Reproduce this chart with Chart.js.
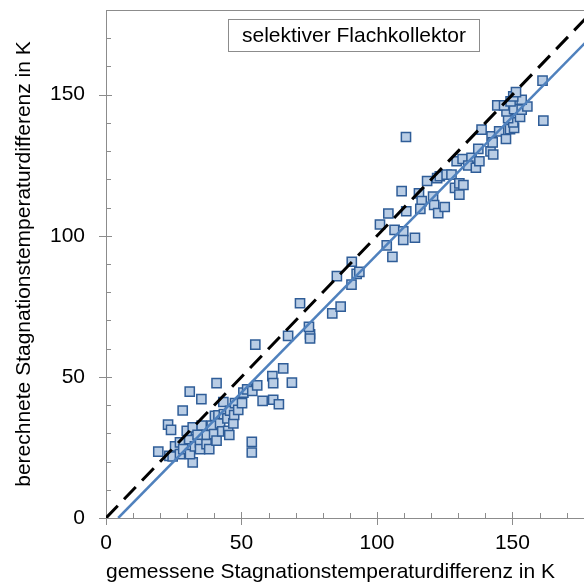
<!DOCTYPE html>
<html><head><meta charset="utf-8">
<script src="https://cdn.jsdelivr.net/npm/chart.js@4"></script>
<style>html,body{margin:0;padding:0;background:#fff}canvas{display:block}</style>
</head><body>
<canvas id="c" width="584" height="583"></canvas>
<script>
// measured (gemessene) vs calculated (berechnete) stagnation temperature differences in K
const measured = [
 19.3,22.9,24.0,28.3,30.9,35.2,40.8,23.4,24.6,32.0,25.5,27.3,27.3,28.5,31.0,30.7,29.8,32.0,32.8,34.7,
 34.7,35.3,36.9,37.1,38.1,39.0,39.9,40.2,40.8,41.5,42.1,42.9,43.3,43.5,44.8,45.1,45.5,45.8,47.0,47.3,
 47.6,48.8,50.2,50.7,52.1,54.0,55.8,53.8,53.8,55.1,57.8,61.7,63.8,61.4,61.7,65.4,68.6,33.8,
 67.2,75.3,75.3,74.9,71.6,83.5,86.6,85.2,90.7,90.6,92.5,93.5,
 105.7,103.6,101.1,104.2,106.5,109.7,109.7,114.0,110.8,110.7,109.1,115.5,116.5,116.0,118.5,122.2,120.7,121.1,122.6,125.0,123.2,
 125.7,127.5,128.8,130.4,131.9,130.4,129.4,131.6,134.9,133.7,136.5,137.8,137.4,141.9,142.9,138.6,142.3,142.7,145.1,147.6,
 149.1,150.6,150.3,148.4,152.8,147.8,150.6,153.4,155.5,144.4,146.9,149.3,153.4,150.3,151.3,161.1,161.4
];
const calculated = [
 23.5,33.1,31.2,38.1,44.8,42.1,47.8,22.0,21.8,19.7,25.4,26.8,22.6,24.4,22.6,27.9,30.9,32.1,25.4,26.8,
 24.4,32.7,29.4,26.2,24.4,32.7,29.7,36.2,27.4,36.4,33.5,30.7,41.1,36.8,35.3,30.9,29.4,38.0,33.5,36.5,
 40.7,38.3,40.7,44.4,45.6,45.0,47.0,27.0,23.2,61.4,41.5,41.9,40.3,50.3,47.8,53.0,48.0,29.5,
 64.5,65.1,63.6,67.7,76.1,72.5,74.9,85.7,90.8,82.7,86.5,87.2,
 92.5,96.6,104.0,107.9,102.1,101.6,98.5,99.3,108.7,135.0,115.8,115.0,112.3,109.5,119.4,120.4,113.9,110.9,108.0,110.2,121.1,
 121.7,121.7,117.0,118.6,118.0,114.6,126.4,127.2,127.6,124.9,124.1,126.4,130.8,129.9,128.8,137.6,135.2,133.1,137.0,134.3,
 137.8,138.2,140.2,141.7,142.1,144.1,144.9,144.7,145.8,146.2,146.2,147.6,148.2,149.4,150.9,155.0,140.8
];
// reference line y = x and regression line
const identityX = [0, 180];
const identityY = [0, 180];
const fitX = [4.5, 180];
const fitY = [0, 171.5];
// axes
const xMin = 0, xMax = 176.4, yMin = 0, yMax = 180;
const xTickValues = [0,10,20,30,40,50,60,70,80,90,100,110,120,130,140,150,160,170];
const yTickValues = [0,10,20,30,40,50,60,70,80,90,100,110,120,130,140,150,160,170,180];
const labeledTicks = [0,50,100,150];
const boxText = 'selektiver Flachkollektor';
const xTitle = 'gemessene Stagnationstemperaturdifferenz in K';
const yTitle = 'berechnete Stagnationstemperaturdifferenz in K';

const FONT = "'Liberation Sans', Arial, sans-serif";
const AXIS = '#8c8c8c';

const pts = measured.map((v,i)=>({x:v, y:calculated[i]}));
const idPts = identityX.map((v,i)=>({x:v, y:identityY[i]}));
const fitPts = fitX.map((v,i)=>({x:v, y:fitY[i]}));

const tickPlugin = {
  id: 'tickmarks',
  beforeDatasetsDraw(chart){
    const {ctx, chartArea:a, scales:{x, y}} = chart;
    ctx.save();
    ctx.strokeStyle = AXIS; ctx.lineWidth = 1;
    ctx.beginPath();
    ctx.moveTo(a.left, a.top + 0.5); ctx.lineTo(a.right, a.top + 0.5);
    xTickValues.forEach(v=>{
      const p = Math.round(x.getPixelForValue(v)) + 0.5;
      if (labeledTicks.includes(v)) { ctx.moveTo(p, a.bottom - 6); ctx.lineTo(p, a.bottom + 7); }
      else { ctx.moveTo(p, a.bottom - 5); ctx.lineTo(p, a.bottom); }
    });
    yTickValues.forEach(v=>{
      const p = Math.round(y.getPixelForValue(v)) + 0.5;
      if (labeledTicks.includes(v)) { ctx.moveTo(a.left - 7, p); ctx.lineTo(a.left + 6, p); }
      else { ctx.moveTo(a.left, p); ctx.lineTo(a.left + 5, p); }
    });
    ctx.stroke();
    ctx.restore();
  },
  afterDraw(chart){
    const {ctx} = chart;
    ctx.save();
    ctx.fillStyle = '#fff';
    ctx.fillRect(228.5, 19.5, 251, 32);
    ctx.strokeStyle = AXIS; ctx.lineWidth = 1;
    ctx.strokeRect(228.5, 19.5, 251, 32);
    ctx.fillStyle = '#000';
    ctx.font = '21px ' + FONT;
    ctx.textAlign = 'center'; ctx.textBaseline = 'middle';
    ctx.fillText(boxText, 354, 36);
    ctx.restore();
  }
};

new Chart(document.getElementById('c'), {
  type: 'scatter',
  data: { datasets: [
    { type:'line', data: idPts, borderColor:'#000', borderWidth:3, borderDash:[17,9], pointRadius:0, fill:false, order:0 },
    { type:'line', data: fitPts, borderColor:'#4f81bd', borderWidth:2.5, pointRadius:0, fill:false, order:1 },
    { data: pts, pointStyle:'rect', pointRadius:6.5, backgroundColor:'#b9cde5', borderColor:'#2f5d98', borderWidth:1.5, order:2 }
  ]},
  options: {
    responsive:false, animation:false, devicePixelRatio:1,
    layout:{ autoPadding:false, padding:{ top:10, right:0, left:0, bottom:0 } },
    plugins:{ legend:{display:false}, tooltip:{enabled:false} },
    scales:{
      x:{ type:'linear', min:xMin, max:xMax,
        afterBuildTicks: s => { s.ticks = xTickValues.map(v=>({value:v})); },
        afterFit: s => { s.height = 65; s.paddingLeft = 0; s.paddingRight = 0; },
        grid:{ display:false, drawTicks:false },
        border:{ display:true, color:AXIS, width:1 },
        ticks:{ autoSkip:false, maxRotation:0, padding:15, color:'#000',
          font:{ family:FONT, size:21, lineHeight:1 },
          callback: v => labeledTicks.includes(v) ? String(v) : '' },
        title:{ display:true, align:'start', text:xTitle, color:'#000', font:{ family:FONT, size:21, lineHeight:1 }, padding:{top:0,bottom:0} }
      },
      y:{ type:'linear', min:yMin, max:yMax,
        afterBuildTicks: s => { s.ticks = yTickValues.map(v=>({value:v})); },
        afterFit: s => { s.width = 106; s.paddingTop = 0; s.paddingBottom = 0; },
        grid:{ display:false, drawTicks:false },
        border:{ display:true, color:AXIS, width:1 },
        ticks:{ autoSkip:false, padding:21, color:'#000',
          font:{ family:FONT, size:21, lineHeight:1 },
          callback: v => labeledTicks.includes(v) ? String(v) : '' },
        title:{ display:true, text:yTitle, color:'#000', font:{ family:FONT, size:21, lineHeight:1 }, padding:{top:14,bottom:0} }
      }
    }
  },
  plugins:[tickPlugin]
});
</script>
</body></html>
